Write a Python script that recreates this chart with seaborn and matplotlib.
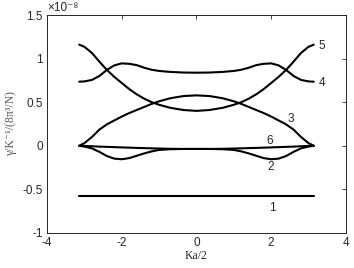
import pandas as pd
import matplotlib
matplotlib.use("Agg")
import matplotlib.pyplot as plt
import seaborn as sns

# Ka/2 sample points, values in units of 1e-8
ka = [-3.14, -3.0, -2.8, -2.6, -2.4, -2.2, -2.0, -1.8, -1.6, -1.4, -1.2, -1.0, -0.7, -0.35, 0.0,
      0.35, 0.7, 1.0, 1.2, 1.4, 1.6, 1.8, 2.0, 2.2, 2.4, 2.6, 2.8, 3.0, 3.14]

band1 = [-0.58] * 29
band2 = [0.0, -0.01, -0.03, -0.07, -0.118, -0.148, -0.155, -0.142, -0.115, -0.088, -0.065, -0.048, -0.04, -0.037, -0.037,
         -0.037, -0.04, -0.048, -0.065, -0.088, -0.115, -0.142, -0.155, -0.148, -0.118, -0.07, -0.03, -0.01, 0.0]
band3 = [0.0, 0.03, 0.10, 0.185, 0.245, 0.29, 0.335, 0.375, 0.41, 0.445, 0.48, 0.51, 0.545, 0.57, 0.578,
         0.57, 0.545, 0.51, 0.48, 0.445, 0.41, 0.375, 0.335, 0.29, 0.245, 0.185, 0.10, 0.03, 0.0]
band4 = [0.735, 0.738, 0.755, 0.80, 0.87, 0.922, 0.945, 0.94, 0.925, 0.895, 0.872, 0.858, 0.847, 0.84, 0.838,
         0.84, 0.847, 0.858, 0.872, 0.895, 0.925, 0.94, 0.945, 0.922, 0.87, 0.80, 0.755, 0.738, 0.735]
band5 = [1.16, 1.135, 1.065, 0.965, 0.87, 0.79, 0.72, 0.65, 0.59, 0.54, 0.50, 0.47, 0.435, 0.41, 0.40,
         0.41, 0.435, 0.47, 0.50, 0.54, 0.59, 0.65, 0.72, 0.79, 0.87, 0.965, 1.065, 1.135, 1.16]
band6 = [0.0, -0.002, -0.006, -0.01, -0.013, -0.016, -0.019, -0.022, -0.025, -0.027, -0.03, -0.032, -0.035, -0.037, -0.037,
         -0.037, -0.035, -0.032, -0.03, -0.027, -0.025, -0.022, -0.019, -0.016, -0.013, -0.01, -0.006, -0.002, 0.0]

bands = {"1": band1, "2": band2, "3": band3, "4": band4, "5": band5, "6": band6}

# label positions next to the curves
labels = ["5", "4", "3", "6", "2", "1"]
label_x = [3.35, 3.35, 2.52, 1.97, 1.99, 2.03]
label_y = [1.15, 0.72, 0.31, 0.055, -0.247, -0.717]

df = pd.concat([pd.DataFrame({"Ka": ka, "gamma": v, "band": k}) for k, v in bands.items()])

sns.set_style("white")
plt.rcParams["font.family"] = ["Liberation Sans", "DejaVu Sans"]
plt.rcParams["axes.unicode_minus"] = False

fig = plt.figure(figsize=(3.54, 2.68), dpi=100)
ax = fig.add_axes([0.133, 0.131, 0.844, 0.813])

sns.lineplot(data=df, x="Ka", y="gamma", hue="band", estimator=None, sort=False,
             palette=["black"] * 6, legend=False, linewidth=1.5, ax=ax)

ax.set_xlim(-4, 4)
ax.set_ylim(-1, 1.5)
ax.set_xticks([-4, -2, 0, 2, 4])
ax.set_yticks([-1, -0.5, 0, 0.5, 1, 1.5])
ax.set_xticklabels(["-4", "-2", "0", "2", "4"])
ax.set_yticklabels(["-1", "-0.5", "0", "0.5", "1", "1.5"])
ax.tick_params(direction="in", top=True, right=True, length=3, width=0.6,
               labelsize=8.5, colors="#262626", pad=3)
for s in ax.spines.values():
    s.set_linewidth(0.7)
    s.set_color("#262626")

for t, x, y in zip(labels, label_x, label_y):
    ax.text(x, y, t, ha="center", va="center", fontsize=8.5)

ax.text(0.0, 1.005, "×10⁻⁸", transform=ax.transAxes, ha="left", va="bottom",
        fontsize=8.5, color="#262626")

ax.set_xlabel("Ka/2", family=["Liberation Serif", "DejaVu Serif"], fontsize=8.5, labelpad=1)
ax.set_ylabel("γ/K⁻¹/(8π³/N)", family=["Liberation Serif", "DejaVu Serif"],
              fontsize=8.5, color="#555555", labelpad=4)

fig.savefig("out.png", dpi=100)
